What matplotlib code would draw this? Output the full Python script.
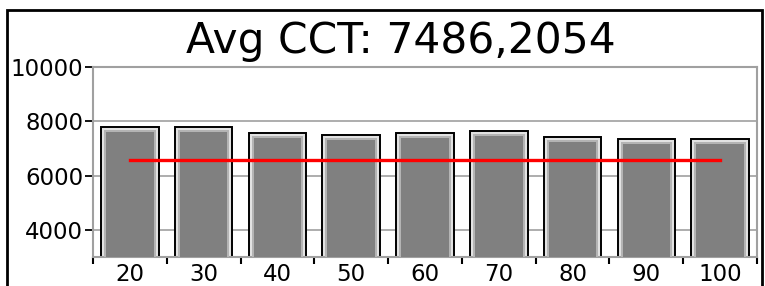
import matplotlib
matplotlib.use("Agg")
import matplotlib.pyplot as plt
from matplotlib.patches import Rectangle
import numpy as np

categories = ["20", "30", "40", "50", "60", "70", "80", "90", "100"]
cct_values = [7780, 7780, 7560, 7490, 7560, 7635, 7410, 7340, 7340]
avg_line = [6575] * len(categories)
title = "Avg CCT: 7486,2054"
y_ticks = [4000, 6000, 8000, 10000]

fig = plt.figure(figsize=(7.65, 2.86), dpi=100)
ax = fig.add_axes([93 / 765, 1 - 257 / 286, 664 / 765, 190 / 286])

x = np.arange(len(categories))
# px -> data conversion for the bevel insets
px_x = 1 / 73.8
px_y = 2000 / 54.7

ax.bar(x, cct_values, width=0.78, color="#e2e2e2", edgecolor="black",
       linewidth=1.4, zorder=2)
ax.bar(x, np.array(cct_values) - 3 * px_y, width=0.78 - 6 * px_x,
       color="#b4b4b4", linewidth=0, zorder=3)
ax.bar(x, np.array(cct_values) - 5 * px_y, width=0.78 - 10 * px_x,
       color="#808080", linewidth=0, zorder=4)

ax.plot(x, avg_line, color="red", linewidth=2.4, zorder=5)

ax.set_xlim(-0.5, len(categories) - 0.5)
ax.set_ylim(3000, 10000)
ax.set_yticks(y_ticks)
ax.set_yticklabels([str(v) for v in y_ticks])
ax.grid(axis="y", color="#a0a0a0", linewidth=1.2, zorder=0)

ax.set_xticks(x)
ax.set_xticklabels(categories)
ax.set_xticks(np.arange(len(categories) + 1) - 0.5, minor=True)
ax.tick_params(axis="x", which="major", length=0, pad=4, labelsize=16.5)
ax.tick_params(axis="x", which="minor", length=5, width=1.5, color="black")
ax.tick_params(axis="y", length=6, width=1.3, color="black", pad=1,
               labelsize=16.5)

for s in ax.spines.values():
    s.set_color("#a0a0a0")
    s.set_linewidth(1.5)

fig.text(401 / 765, 1 - 41 / 286, title, fontsize=30.5, ha="center",
         va="center")

fig.patches.append(Rectangle((7 / 765, -0.1), 755 / 765, 1 - 10 / 286 + 0.1,
                             transform=fig.transFigure, fill=False,
                             edgecolor="black", linewidth=2))

fig.savefig("out.png", dpi=100)
